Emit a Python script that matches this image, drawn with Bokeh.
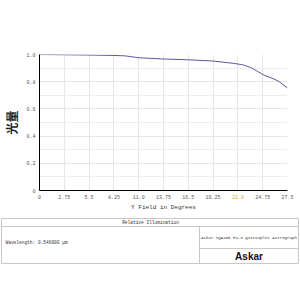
from bokeh.plotting import figure
from bokeh.models import Range1d, FixedTicker, GridBox, AllLabels
from bokeh.core.properties import value
from bokeh.embed import file_html
from bokeh.resources import INLINE

# ---- data ----
field_deg = [0, 2.75, 5.5, 8.25, 9.5, 11.0, 13.75, 16.5, 19.25, 21.5, 22.5, 23.4, 24.2, 24.9, 26.0, 26.6, 27.5]
rel_illum = [1.0, 0.998, 0.996, 0.993, 0.99, 0.976, 0.967, 0.961, 0.952, 0.935, 0.925, 0.905, 0.875, 0.848, 0.82, 0.80, 0.753]
x_ticks = [0, 2.75, 5.5, 8.25, 11.0, 13.75, 16.5, 19.25, 22.0, 24.75, 27.5]
x_tick_labels = ["0", "2.75", "5.5", "8.25", "11.0", "13.75", "16.5", "19.25", "22.0", "24.75", "27.5"]
y_ticks = [0, 0.2, 0.4, 0.6, 0.8, 1.0]
y_tick_labels = ["0", "0.2", "0.4", "0.6", "0.8", "1.0"]
y_minor = [0.1, 0.3, 0.5, 0.7, 0.9]
highlight_tick = 22.0
x_title = "Y Field in Degrees"
y_title = "光量"
table_title = "Relative Illumination"
wavelength_text = "Wavelength: 0.546000 µm"
scope_text = "Askar SQA106 F4.8 Quintuplet Astrograph"
brand_text = "Askar"

MONO = "Liberation Mono"
W, H = 300, 300
B_LEFT, B_RIGHT, B_TOP, B_BOTTOM = 39, 13, 54, 110
X0, X1 = 0, 27.5

p = figure(width=W, height=H, x_range=Range1d(X0, X1), y_range=Range1d(0, 1),
           output_backend="svg", toolbar_location=None,
           min_border_left=B_LEFT, min_border_right=B_RIGHT,
           min_border_top=B_TOP, min_border_bottom=B_BOTTOM)
p.outline_line_color = None
p.frame_align = False

p.line(field_deg, rel_illum, line_color="#5a5aa0", line_width=1)

axis_ticks = [t for t in x_ticks if t != highlight_tick]
p.xaxis.ticker = FixedTicker(ticks=axis_ticks)
p.xaxis.major_label_overrides = {float(t): l for t, l in zip(x_ticks, x_tick_labels) if t != highlight_tick}
p.xgrid.ticker = FixedTicker(ticks=x_ticks)
p.xaxis.axis_label = x_title
for ax in (p.xaxis, p.yaxis):
    ax.axis_line_color = "black"
    ax.axis_line_width = 1
    ax.major_tick_out = 0
    ax.major_tick_in = 0
    ax.minor_tick_out = 0
    ax.minor_tick_in = 0
    ax.major_label_text_font = MONO
    ax.major_label_text_font_size = "5px"
    ax.major_label_text_color = "#555555"
    ax.major_label_policy = AllLabels()
p.xaxis.major_label_standoff = 4
p.xaxis.axis_label_text_font = MONO
p.xaxis.axis_label_text_font_size = "6px"
p.xaxis.axis_label_text_font_style = "normal"
p.xaxis.axis_label_text_color = "#333333"
p.xaxis.axis_label_standoff = 2

p.yaxis.ticker = FixedTicker(ticks=y_ticks, minor_ticks=y_minor)
p.yaxis.major_label_overrides = {float(t): l for t, l in zip(y_ticks, y_tick_labels)}
p.yaxis.major_label_standoff = 4
p.yaxis.axis_label = y_title
p.yaxis.axis_label_text_font = "Noto Sans CJK SC"
p.yaxis.axis_label_text_font_size = "12px"
p.yaxis.axis_label_text_font_style = "bold"
p.yaxis.axis_label_text_color = "#222222"
p.yaxis.axis_label_standoff = 3

p.xgrid.grid_line_color = "#e6e6e6"
p.ygrid.grid_line_color = "#e6e6e6"
p.ygrid.minor_grid_line_color = "#eeeeee"

# ---- transparent overlay: highlighted tick label + info table ----
px_per_unit = (W - B_LEFT - B_RIGHT) / (X1 - X0)
o = figure(width=W, height=H,
           x_range=Range1d(X0 - B_LEFT / px_per_unit, X1 + B_RIGHT / px_per_unit),
           y_range=Range1d(H, 0),
           output_backend="svg", toolbar_location=None,
           x_axis_location=None, y_axis_location=None, min_border=0)
o.frame_align = False
o.outline_line_color = None
o.background_fill_alpha = 0
o.border_fill_alpha = 0
o.xgrid.grid_line_color = None
o.ygrid.grid_line_color = None

# highlighted tick label
o.text(x=[highlight_tick], y=[H - B_BOTTOM + 4], text=[x_tick_labels[x_ticks.index(highlight_tick)]],
       text_align="center", text_baseline="top", text_font=value(MONO), text_font_size="5px",
       text_color="#d4a21a")

def px(xp):
    return X0 + (xp - B_LEFT) / px_per_unit

line_c = "#c8c8c8"
o.quad(left=[px(1)], right=[px(298)], top=[218], bottom=[263], fill_color=None,
       line_color=line_c, line_width=1)
o.segment(x0=[px(1), px(199), px(199)], y0=[226, 226, 248], x1=[px(298), px(199), px(298)],
          y1=[226, 263, 248], line_color=line_c, line_width=1)
o.text(x=[px(150)], y=[222], text=[table_title], text_align="center", text_baseline="middle",
       text_font=value(MONO), text_font_size="4.5px", text_color="#333333")
o.text(x=[px(5)], y=[242], text=[wavelength_text], text_align="left", text_baseline="middle",
       text_font=value(MONO), text_font_size="4.5px", text_color="#333333")
o.text(x=[px(248.5)], y=[237], text=[scope_text], text_align="center", text_baseline="middle",
       text_font=value(MONO), text_font_size="4.1px", text_color="#333333")
o.text(x=[px(248.5)], y=[256], text=[brand_text], text_align="center", text_baseline="middle",
       text_font=value("Liberation Sans"), text_font_size="10px", text_font_style="bold",
       text_color="#111111")

layout = GridBox(children=[(p, 0, 0), (o, 0, 0)], width=W, height=H)
open("out.html", "w").write(file_html(layout, INLINE))
